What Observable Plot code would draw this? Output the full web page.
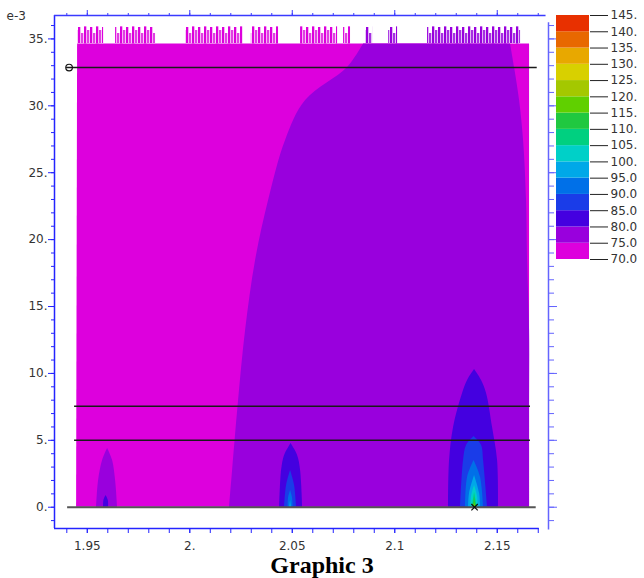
<!DOCTYPE html>
<html><head><meta charset="utf-8">
<script src="https://cdn.jsdelivr.net/npm/d3@7"></script>
<script src="https://cdn.jsdelivr.net/npm/@observablehq/plot@0.6"></script>
<style>
body{margin:0;background:#fff;}
#wrap{position:relative;width:644px;height:578px;overflow:hidden;}
#main{position:absolute;left:0;top:0;}
#legend{position:absolute;left:550px;top:0;}
#title{position:absolute;left:0;top:554px;width:644px;text-align:center;font:bold 24px "Liberation Serif","Times New Roman",serif;line-height:22px;color:#000;}
</style></head><body>
<svg width="0" height="0" style="position:absolute">
<defs>
<pattern id="combM" patternUnits="userSpaceOnUse" x="0" y="26" width="12" height="17">
<rect x="0" y="0" width="2.3" height="17" fill="#dd00dd"/>
<rect x="3" y="4" width="2.3" height="13" fill="#e040e2"/>
<rect x="6" y="1" width="2.3" height="16" fill="#dd00dd"/>
<rect x="9" y="7" width="2.3" height="10" fill="#e040e2"/>
</pattern>
<pattern id="combP" patternUnits="userSpaceOnUse" x="0" y="26" width="12" height="17">
<rect x="0" y="0" width="2.3" height="17" fill="#9900dd"/>
<rect x="3" y="4" width="2.3" height="13" fill="#a630e2"/>
<rect x="6" y="1" width="2.3" height="16" fill="#9900dd"/>
<rect x="9" y="7" width="2.3" height="10" fill="#a630e2"/>
</pattern>
</defs>
</svg>
<div id="wrap"><div id="main"></div><div id="legend"></div><div id="title">Graphic 3</div></div>
<script>
// ---------- data ----------
const levelLo = [70,75,80,85,90,95,100,105,110,115,120,125,130,135,140];
const levelTicks = [70,75,80,85,90,95,100,105,110,115,120,125,130,135,140,145];
const palette = ["#dd00dd","#9900dd","#4400e0","#1a3ce8","#0070e8","#00a8e8","#00d0c8","#00d080","#20c840","#60d000","#a4c800","#d8d000","#e8a800","#e86800","#e83000"];

const xMajor = [1.95, 2.0, 2.05, 2.1, 2.15];
const xMinor = [1.94,1.95,1.96,1.97,1.98,1.99,2.0,2.01,2.02,2.03,2.04,2.05,2.06,2.07,2.08,2.09,2.1,2.11,2.12,2.13,2.14,2.15,2.16,2.17];
const yMajor = [0,5,10,15,20,25,30,35];
const yMinor = [-1,0,1,2,3,4,5,6,7,8,9,10,11,12,13,14,15,16,17,18,19,20,21,22,23,24,25,26,27,28,29,30,31,32,33,34,35,36];

// contour bands: rows of [y (e-3), x left, x right]
const band70 = [[0,1.94478,2.16576],[34.62,1.94527,2.16576]];
const band75 = [[0,2.01941,2.16576],[2.74,2.02088,2.16576],[7.97,2.02380,2.16576],[13.2,2.02722,2.16576],[18.44,2.03210,2.16478],[22.92,2.03844,2.16429],[27.41,2.04673,2.16283],[30.39,2.05649,2.16088],[32.86,2.07698,2.15844],[34.62,2.08478,2.15649]];
const peakA75 = [[0,1.95454,1.96478],[2.0,1.95551,1.96380],[3.49,1.95746,1.96234],[4.39,1.95990,1.95990]];
const peakA80 = [[0,1.95795,1.96039],[0.5,1.95810,1.96025],[0.87,1.95917,1.95917]];
const peakB80 = [[0,2.04380,2.05502],[2.74,2.04478,2.05405],[3.86,2.04624,2.05259],[4.76,2.04941,2.04941]];
const peakB85 = [[0,2.04624,2.05210],[1.62,2.04722,2.05112],[2.74,2.04917,2.04917]];
const peakB90 = [[0,2.04795,2.05039],[0.7,2.04820,2.05010],[1.25,2.04917,2.04917]];
const peakB95 = [[0,2.04868,2.04966],[0.5,2.04917,2.04917]];
const peakC80 = [[0,2.12624,2.15063],[3.49,2.12673,2.15015],[5.96,2.12868,2.14771],[8.5,2.13307,2.14478],[9.47,2.13551,2.14234],[10.29,2.13893,2.13893]];
const peakC85 = [[0,2.13210,2.14527],[3.49,2.13356,2.14332],[4.61,2.13502,2.14234],[5.28,2.13868,2.13868]];
const peakC90 = [[0,2.13454,2.14332],[2.22,2.13551,2.14185],[3.49,2.13868,2.13868]];
const peakC95 = [[0,2.13600,2.14185],[1.02,2.13649,2.14137],[2.37,2.13893,2.13893]];
const peakC100 = [[0,2.13722,2.14063],[0.8,2.13746,2.14039],[1.62,2.13893,2.13893]];
const peakC105 = [[0,2.13780,2.14024],[1.10,2.13893,2.13893]];
const peakC110 = [[0,2.13810,2.13990],[0.72,2.13893,2.13893]];
const peakC115 = [[0,2.13844,2.13966],[0.35,2.13900,2.13900]];

// jagged fringe on top of the field: [x start, x end]
const fringe70 = [[1.94527,1.95795],[1.96380,1.98332],[1.99795,2.02600],[2.03000,2.04332],[2.05405,2.07210],[2.07502,2.07844]];
const fringe75 = [[2.08576,2.08917],[2.09698,2.10137],[2.11600,2.16137]];
const fringeBase = 34.62;
const fringeTop = 35.9;

// horizontal lines
const lineY  = [32.86, 7.55, 5.0];
const lineX1 = [1.93990, 1.94380, 1.94380];
const lineX2 = [2.16950, 2.16620, 2.16620];
const zeroLine = [{y: 0, x1: 1.94040, x2: 2.16900}];
const circleMark = [{x: 1.94112, y: 32.86}];
const crossMark = [{x: 2.13893, y: 0}];

const xDomain = [1.934, 2.175];
const yDomain = [-1.59, 36.75];

// ---------- drawing ----------
const colorScale = {type: "ordinal", domain: levelLo, range: palette};
const bands = [
  [70, band70, "linear"], [75, band75, "catmull-rom"], [75, peakA75, "catmull-rom"], [80, peakA80, "catmull-rom"],
  [80, peakB80, "catmull-rom"], [85, peakB85, "catmull-rom"], [90, peakB90, "catmull-rom"], [95, peakB95, "catmull-rom"],
  [80, peakC80, "catmull-rom"], [85, peakC85, "catmull-rom"], [90, peakC90, "catmull-rom"], [95, peakC95, "catmull-rom"],
  [100, peakC100, "catmull-rom"], [105, peakC105, "catmull-rom"], [110, peakC110, "catmull-rom"], [115, peakC115, "catmull-rom"]
];
const bandMarks = bands.map(([lvl, rows, curve]) =>
  Plot.areaX(rows, {y: d => d[0], x1: d => d[1], x2: d => d[2], fill: () => lvl, curve}));

const fmtX = d => Math.abs(d - Math.round(d)) < 1e-9 ? Math.round(d) + "." : String(+d.toFixed(2));
const blueL = "#2424ff", blueT = "#3a3aff", blueR = "#6464ff";
const txt = "#333";

const main = Plot.plot({
  width: 644, height: 554,
  marginLeft: 54, marginRight: 96, marginTop: 15, marginBottom: 26,
  x: {domain: xDomain},
  y: {domain: yDomain},
  color: colorScale,
  style: {fontFamily: "'DejaVu Sans', sans-serif", fontSize: "12px", background: "#fff"},
  marks: [
    ...bandMarks,
    Plot.rect(fringe70, {x1: d => d[0], x2: d => d[1], y1: fringeBase, y2: fringeTop, fill: "url(#combM)"}),
    Plot.rect(fringe75, {x1: d => d[0], x2: d => d[1], y1: fringeBase, y2: fringeTop, fill: "url(#combP)"}),
    Plot.ruleY(lineY, {y: d => d, x1: (d, i) => lineX1[i], x2: (d, i) => lineX2[i], stroke: "#1a1a1a", strokeWidth: 1.6}),
    Plot.ruleY(zeroLine, {y: "y", x1: "x1", x2: "x2", stroke: "#555", strokeWidth: 2}),
    Plot.dot(circleMark, {x: "x", y: "y", r: 3.3, stroke: "#111", strokeWidth: 1.2}),
    Plot.dot(crossMark, {x: "x", y: "y", r: 3, symbol: "times", stroke: "#111", strokeWidth: 1.2}),
    // frame lines
    Plot.ruleX([xDomain[0]], {stroke: blueL, strokeWidth: 1.5}),
    Plot.ruleY([yDomain[0]], {x1: xDomain[0], x2: 2.1705, stroke: blueL, strokeWidth: 1.5}),
    Plot.ruleY([yDomain[1]], {x1: xDomain[0], x2: 2.1738, stroke: blueT, strokeWidth: 1.5}),
    Plot.ruleX([xDomain[1]], {y1: -1.7, y2: 36.2, stroke: blueR, strokeWidth: 1.5}),
    // axes
    Plot.axisY({ticks: yMinor, tickSize: 3, tickFormat: () => "", label: null, stroke: blueL}),
    Plot.axisY({ticks: yMajor, tickSize: 6, tickPadding: 1, tickFormat: d => d + ".", label: null, stroke: blueL, fill: txt, fontSize: 12}),
    Plot.axisY({ticks: yMinor, anchor: "right", tickSize: 5, tickFormat: () => "", label: null, stroke: blueR}),
    Plot.axisY({ticks: yMajor, anchor: "right", tickSize: 8, tickFormat: () => "", label: null, stroke: blueR}),
    Plot.axisX({ticks: xMinor, anchor: "top", tickSize: 3, tickFormat: () => "", label: null, stroke: blueT}),
    Plot.axisX({ticks: xMajor, anchor: "top", tickSize: 6, tickFormat: () => "", label: null, stroke: blueT}),
    Plot.axisX({ticks: xMinor, anchor: "bottom", tickSize: 5, tickFormat: () => "", label: null, stroke: blueL}),
    Plot.axisX({ticks: xMajor, anchor: "bottom", tickSize: 5, tickPadding: 8, tickFormat: fmtX, label: null, stroke: blueL, fill: txt, fontSize: 12}),
    Plot.text(["e-3"], {frameAnchor: "top-left", dx: -48, dy: 0.5, textAnchor: "start", lineAnchor: "middle", fill: txt, fontSize: 12})
  ]
});
document.getElementById("main").appendChild(main);

const fmtL = d => d >= 100 ? d + "." : d.toFixed(1);
const legend = Plot.plot({
  width: 94, height: 275,
  marginLeft: 6, marginRight: 55, marginTop: 15, marginBottom: 16,
  x: {domain: [0, 1], axis: null},
  y: {domain: [70, 145], axis: null},
  color: colorScale,
  style: {fontFamily: "'DejaVu Sans', sans-serif", fontSize: "12px", background: "transparent", overflow: "visible"},
  marks: [
    Plot.rect(levelLo, {x1: 0, x2: 1, y1: d => d, y2: (d, i) => levelTicks[i + 1], fill: d => d}),
    Plot.axisY({ticks: levelTicks, anchor: "right", tickSize: 18, tickPadding: 3, tickFormat: fmtL, label: null, stroke: "#222", fill: txt, fontSize: 12})
  ]
});
document.getElementById("legend").appendChild(legend);
</script>
</body></html>
